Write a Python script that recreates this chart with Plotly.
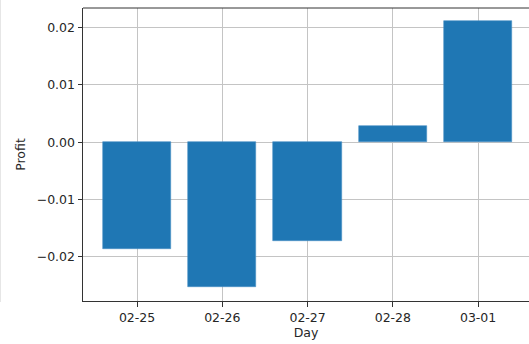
import plotly.graph_objects as go

# Daily profit per trading day
days = ["02-25", "02-26", "02-27", "02-28", "03-01"]
profit = [-0.0186, -0.0252, -0.0173, 0.0029, 0.0212]

y_ticks = [-0.02, -0.01, 0.0, 0.01, 0.02]
y_tick_text = ["\u22120.02", "\u22120.01", "0.00", "0.01", "0.02"]

W, H = 529, 344
L, R, T, B = 83, 0, 8, 43

font = dict(family="DejaVu Sans", size=12.5, color="#262626")

fig = go.Figure(
    go.Bar(
        x=list(range(len(days))),
        y=profit,
        width=0.8,
        marker=dict(color="#1f77b4", line=dict(width=0.6, color="#4a8fc4")),
    )
)

axis_common = dict(
    showline=True,
    linecolor="#333333",
    linewidth=1,
    showgrid=True,
    gridcolor="#c4c4c4",
    gridwidth=1,
    ticks="outside",
    ticklen=4.5,
    tickwidth=1,
    tickcolor="#333333",
    tickfont=font,
    zeroline=False,
    layer="above traces",
)

fig.update_layout(
    width=W,
    height=H,
    margin=dict(l=L, r=R, t=T, b=B),
    paper_bgcolor="white",
    plot_bgcolor="white",
    showlegend=False,
    font=font,
    bargap=0,
    xaxis=dict(
        **axis_common,
        mirror=False,
        range=[-0.634, 4.597],
        tickmode="array",
        tickvals=list(range(len(days))),
        ticktext=days,
        title=dict(text="Day", font=font, standoff=4),
    ),
    yaxis=dict(
        **axis_common,
        range=[-0.0277, 0.02343],
        tickmode="array",
        tickvals=y_ticks,
        ticktext=y_tick_text,
        title=dict(text="Profit", font=font, standoff=8),
    ),
    shapes=[
        # top spine
        dict(type="line", xref="paper", yref="paper", x0=0, x1=1, y0=1, y1=1,
             line=dict(color="#333333", width=1)),
        # faint frame edge on the far left
        dict(type="line", xref="paper", yref="paper",
             x0=(0.5 - L) / (W - L - R), x1=(0.5 - L) / (W - L - R),
             y0=(H - B - 302) / (H - T - B), y1=(H - B) / (H - T - B),
             line=dict(color="#e6e6e6", width=1)),
    ],
)

fig.write_html("out.html")
